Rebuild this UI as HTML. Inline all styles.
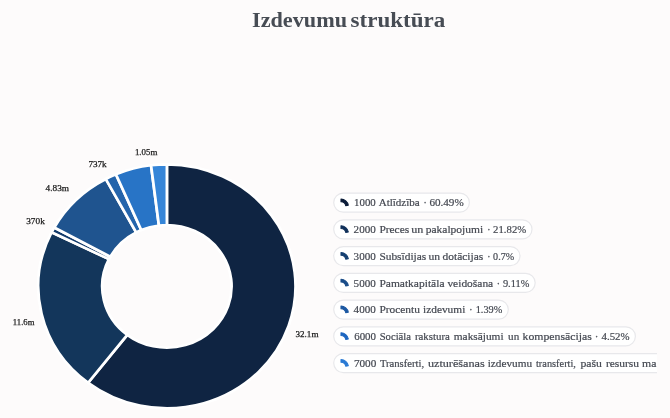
<!DOCTYPE html>
<html><head><meta charset="utf-8"><title>Izdevumu struktūra</title>
<style>html,body{margin:0;padding:0;background:#fdfbfb;}body{width:670px;height:418px;overflow:hidden;font-family:"Liberation Serif",serif;}svg{display:block;will-change:transform}</style>
</head><body>
<svg width="670" height="418" viewBox="0 0 670 418">
<defs><clipPath id="lc"><rect x="325" y="185" width="332" height="200"/></clipPath></defs>
<rect width="670" height="418" fill="#fdfbfb"/>
<g font-family="Liberation Serif, serif" font-weight="bold" font-size="20" fill="#474c54"><text x="252.0" y="26.6" textLength="95.0" lengthAdjust="spacingAndGlyphs">Izdevumu</text><text x="350.6" y="26.6" textLength="94.6" lengthAdjust="spacingAndGlyphs">struktūra</text></g>
<g transform="translate(166.9 286.35) scale(1.0543 1)" stroke="#fff" stroke-width="2.6" stroke-linejoin="round"><path d="M0.00 -122.00A122.0 122.0 0 1 1 -74.71 96.45L-37.57 48.50A61.35 61.35 0 1 0 0.00 -61.35Z" fill="#0f2442"/><path d="M-74.71 96.45A122.0 122.0 0 0 1 -109.36 -54.09L-54.99 -27.20A61.35 61.35 0 0 0 -37.57 48.50Z" fill="#13365b"/><path d="M-109.36 -54.09A122.0 122.0 0 0 1 -106.87 -58.84L-53.74 -29.59A61.35 61.35 0 0 0 -54.99 -27.20Z" fill="#143c6c"/><path d="M-106.87 -58.84A122.0 122.0 0 0 1 -57.97 -107.35L-29.15 -53.98A61.35 61.35 0 0 0 -53.74 -29.59Z" fill="#1f548f"/><path d="M-57.97 -107.35A122.0 122.0 0 0 1 -48.38 -112.00L-24.33 -56.32A61.35 61.35 0 0 0 -29.15 -53.98Z" fill="#2464ab"/><path d="M-48.38 -112.00A122.0 122.0 0 0 1 -15.06 -121.07L-7.57 -60.88A61.35 61.35 0 0 0 -24.33 -56.32Z" fill="#2874c6"/><path d="M-15.06 -121.07A122.0 122.0 0 0 1 -0.00 -122.00L-0.00 -61.35A61.35 61.35 0 0 0 -7.57 -60.88Z" fill="#3585d8"/></g>
<g font-family="Liberation Serif, serif" font-size="8.7" fill="#1c1c1c" stroke="#1c1c1c" stroke-width="0.25"><text x="134.90" y="154.50" textLength="22.40" lengthAdjust="spacingAndGlyphs">1.05m</text><text x="88.40" y="167.20" textLength="18.30" lengthAdjust="spacingAndGlyphs">737k</text><text x="45.60" y="191.30" textLength="23.40" lengthAdjust="spacingAndGlyphs">4.83m</text><text x="26.20" y="223.80" textLength="18.60" lengthAdjust="spacingAndGlyphs">370k</text><text x="12.85" y="324.90" textLength="21.55" lengthAdjust="spacingAndGlyphs">11.6m</text><text x="295.50" y="337.40" textLength="23.00" lengthAdjust="spacingAndGlyphs">32.1m</text></g>
<g clip-path="url(#lc)" font-family="Liberation Serif, serif" font-size="11" fill="#444851" stroke="#444851" stroke-width="0.2"><rect x="333.7" y="193.05" width="135.70" height="19.1" rx="9.55" fill="#fff" stroke="#e8e8eb" stroke-width="1.2"/><path d="M341.00 199.10A7.40 7.4 0 0 1 348.29 205.22L345.73 205.67A4.80 4.8 0 0 0 341.00 201.70Z" fill="#0b1c38" stroke="#0b1c38" stroke-width="1.1" stroke-linejoin="round"/><text x="354.10" y="206.30" textLength="21.70" lengthAdjust="spacingAndGlyphs">1000</text><text x="378.70" y="206.30" textLength="41.00" lengthAdjust="spacingAndGlyphs">Atlīdzība</text><text x="425.10" y="206.30" text-anchor="middle">·</text><text x="429.40" y="206.30" textLength="34.30" lengthAdjust="spacingAndGlyphs">60.49%</text><rect x="333.7" y="219.80" width="198.30" height="19.1" rx="9.55" fill="#fff" stroke="#e8e8eb" stroke-width="1.2"/><path d="M341.00 225.85A7.40 7.4 0 0 1 348.29 231.97L345.73 232.42A4.80 4.8 0 0 0 341.00 228.45Z" fill="#10305a" stroke="#10305a" stroke-width="1.1" stroke-linejoin="round"/><text x="353.60" y="233.05" textLength="22.20" lengthAdjust="spacingAndGlyphs">2000</text><text x="379.40" y="233.05" textLength="29.80" lengthAdjust="spacingAndGlyphs">Preces</text><text x="411.20" y="233.05" textLength="12.10" lengthAdjust="spacingAndGlyphs">un</text><text x="425.70" y="233.05" textLength="57.50" lengthAdjust="spacingAndGlyphs">pakalpojumi</text><text x="488.80" y="233.05" text-anchor="middle">·</text><text x="493.10" y="233.05" textLength="33.10" lengthAdjust="spacingAndGlyphs">21.82%</text><rect x="333.7" y="246.55" width="186.30" height="19.1" rx="9.55" fill="#fff" stroke="#e8e8eb" stroke-width="1.2"/><path d="M341.00 252.60A7.40 7.4 0 0 1 348.29 258.72L345.73 259.17A4.80 4.8 0 0 0 341.00 255.20Z" fill="#153f70" stroke="#153f70" stroke-width="1.1" stroke-linejoin="round"/><text x="353.60" y="259.80" textLength="22.20" lengthAdjust="spacingAndGlyphs">3000</text><text x="379.40" y="259.80" textLength="46.80" lengthAdjust="spacingAndGlyphs">Subsīdijas</text><text x="428.40" y="259.80" textLength="11.60" lengthAdjust="spacingAndGlyphs">un</text><text x="442.50" y="259.80" textLength="40.70" lengthAdjust="spacingAndGlyphs">dotācijas</text><text x="488.80" y="259.80" text-anchor="middle">·</text><text x="493.10" y="259.80" textLength="21.00" lengthAdjust="spacingAndGlyphs">0.7%</text><rect x="333.7" y="273.30" width="201.50" height="19.1" rx="9.55" fill="#fff" stroke="#e8e8eb" stroke-width="1.2"/><path d="M341.00 279.35A7.40 7.4 0 0 1 348.29 285.47L345.73 285.92A4.80 4.8 0 0 0 341.00 281.95Z" fill="#1a4c88" stroke="#1a4c88" stroke-width="1.1" stroke-linejoin="round"/><text x="353.60" y="286.55" textLength="22.20" lengthAdjust="spacingAndGlyphs">5000</text><text x="379.40" y="286.55" textLength="65.10" lengthAdjust="spacingAndGlyphs">Pamatkapitāla</text><text x="447.40" y="286.55" textLength="45.80" lengthAdjust="spacingAndGlyphs">veidošana</text><text x="498.40" y="286.55" text-anchor="middle">·</text><text x="502.90" y="286.55" textLength="26.40" lengthAdjust="spacingAndGlyphs">9.11%</text><rect x="333.7" y="300.05" width="174.60" height="19.1" rx="9.55" fill="#fff" stroke="#e8e8eb" stroke-width="1.2"/><path d="M341.00 306.10A7.40 7.4 0 0 1 348.29 312.22L345.73 312.67A4.80 4.8 0 0 0 341.00 308.70Z" fill="#1c58a2" stroke="#1c58a2" stroke-width="1.1" stroke-linejoin="round"/><text x="353.60" y="313.30" textLength="22.20" lengthAdjust="spacingAndGlyphs">4000</text><text x="379.40" y="313.30" textLength="40.50" lengthAdjust="spacingAndGlyphs">Procentu</text><text x="423.00" y="313.30" textLength="42.30" lengthAdjust="spacingAndGlyphs">izdevumi</text><text x="470.80" y="313.30" text-anchor="middle">·</text><text x="475.70" y="313.30" textLength="26.60" lengthAdjust="spacingAndGlyphs">1.39%</text><rect x="333.7" y="326.80" width="301.70" height="19.1" rx="9.55" fill="#fff" stroke="#e8e8eb" stroke-width="1.2"/><path d="M341.00 332.85A7.40 7.4 0 0 1 348.29 338.97L345.73 339.42A4.80 4.8 0 0 0 341.00 335.45Z" fill="#1d66c0" stroke="#1d66c0" stroke-width="1.1" stroke-linejoin="round"/><text x="354.20" y="340.05" textLength="21.80" lengthAdjust="spacingAndGlyphs">6000</text><text x="379.70" y="340.05" textLength="31.30" lengthAdjust="spacingAndGlyphs">Sociāla</text><text x="414.90" y="340.05" textLength="35.00" lengthAdjust="spacingAndGlyphs">rakstura</text><text x="453.80" y="340.05" textLength="49.80" lengthAdjust="spacingAndGlyphs">maksājumi</text><text x="508.10" y="340.05" textLength="11.10" lengthAdjust="spacingAndGlyphs">un</text><text x="522.60" y="340.05" textLength="69.20" lengthAdjust="spacingAndGlyphs">kompensācijas</text><text x="596.50" y="340.05" text-anchor="middle">·</text><text x="601.50" y="340.05" textLength="28.10" lengthAdjust="spacingAndGlyphs">4.52%</text><rect x="333.7" y="353.55" width="366.60" height="19.1" rx="9.55" fill="#fff" stroke="#e8e8eb" stroke-width="1.2"/><path d="M341.00 359.60A7.40 7.4 0 0 1 348.29 365.72L345.73 366.17A4.80 4.8 0 0 0 341.00 362.20Z" fill="#2a7ad4" stroke="#2a7ad4" stroke-width="1.1" stroke-linejoin="round"/><text x="353.90" y="366.80" textLength="22.40" lengthAdjust="spacingAndGlyphs">7000</text><text x="379.90" y="366.80" textLength="44.20" lengthAdjust="spacingAndGlyphs">Transferti,</text><text x="427.90" y="366.80" textLength="56.80" lengthAdjust="spacingAndGlyphs">uzturēšanas</text><text x="487.70" y="366.80" textLength="44.40" lengthAdjust="spacingAndGlyphs">izdevumu</text><text x="536.00" y="366.80" textLength="39.90" lengthAdjust="spacingAndGlyphs">transferti,</text><text x="580.40" y="366.80" textLength="21.50" lengthAdjust="spacingAndGlyphs">pašu</text><text x="605.90" y="366.80" textLength="33.10" lengthAdjust="spacingAndGlyphs">resursu</text><text x="642.10" y="366.80" textLength="14.40" lengthAdjust="spacingAndGlyphs">ma</text></g>
</svg>
</body></html>
